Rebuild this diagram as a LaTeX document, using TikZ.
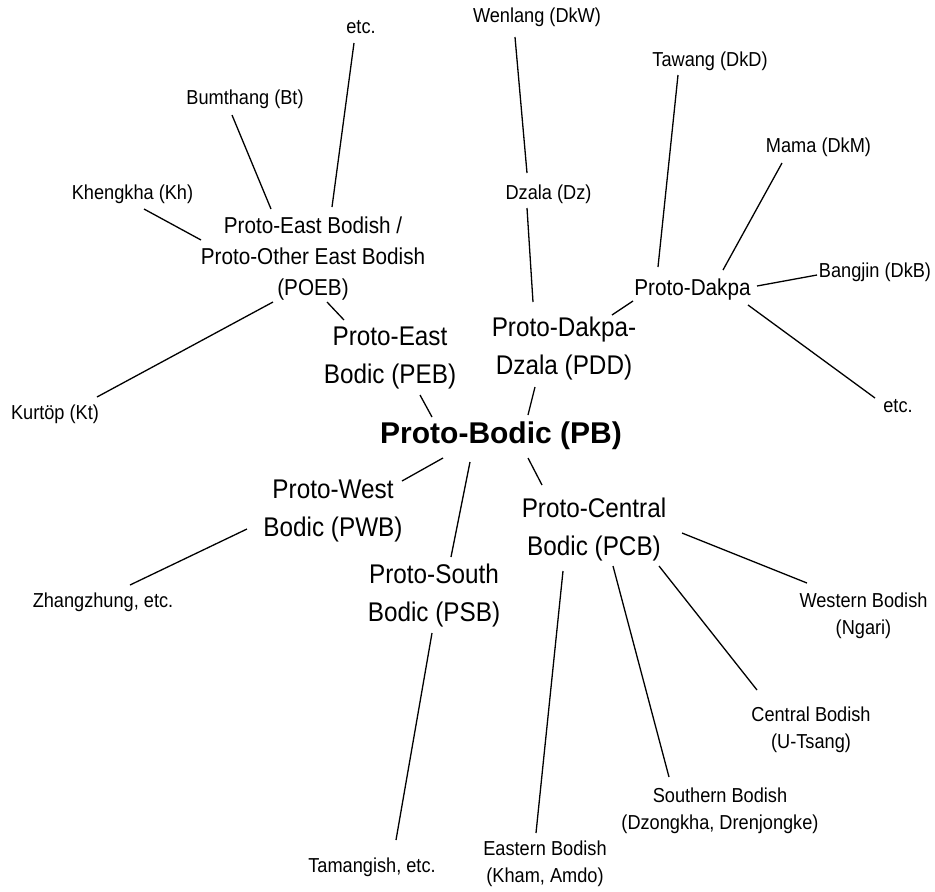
\documentclass[tikz,border=0pt]{standalone}
\usepackage{fontspec}
\setmainfont[FakeStretch=0.9]{Liberation Sans}
\newfontfamily\rootfont{Liberation Sans}
\begin{document}
\begin{tikzpicture}[x=1pt,y=-1pt,
  lbl/.style={inner sep=0pt,outer sep=0pt,align=center,text=black},
  small/.style={lbl,font=\fontsize{20.2}{27}\selectfont},
  mid/.style={lbl,font=\fontsize{23}{31}\selectfont},
  big/.style={lbl,font=\fontsize{27}{38}\selectfont},
  root/.style={lbl,font=\rootfont\fontsize{30}{36}\selectfont\bfseries},
  edge/.style={draw=black,line width=1.3pt}]
\useasboundingbox (0,0) rectangle (935,892);
% root
\node[root,anchor=base] (pb) at (501,443.3) {Proto-Bodic (PB)};
% first level
\node[big] (peb) at (390,358.5) {Proto-East\\Bodic (PEB)};
\node[big] (pdd) at (564,349) {Proto-Dakpa-\\Dzala (PDD)};
\node[big] (pwb) at (333,510.5) {Proto-West\\Bodic (PWB)};
\node[big] (psb) at (434,596) {Proto-South\\Bodic (PSB)};
\node[big] (pcb) at (594,530) {Proto-Central\\Bodic (PCB)};
% second level
\node[mid] (poeb) at (313,258.5) {Proto-East Bodish /\\Proto-Other East Bodish\\(POEB)};
\node[mid,anchor=base] (dakpa) at (692.5,295) {Proto-Dakpa};
\node[small,anchor=base] (dz) at (548.5,199) {Dzala (Dz)};
% leaves
\node[small,anchor=base] (etcA) at (361,33) {etc.};
\node[small,anchor=base] (bum) at (245,104) {Bumthang (Bt)};
\node[small,anchor=base] (kheng) at (132.5,199.3) {Khengkha (Kh)};
\node[small,anchor=base] (kurt) at (55,419) {Kurtöp (Kt)};
\node[small,anchor=base] (wen) at (537,22) {Wenlang (DkW)};
\node[small,anchor=base] (taw) at (710,66) {Tawang (DkD)};
\node[small,anchor=base] (mama) at (818.5,152) {Mama (DkM)};
\node[small,anchor=base] (bang) at (875,277) {Bangjin (DkB)};
\node[small,anchor=base] (etcB) at (898,412) {etc.};
\node[small,anchor=base] (zh) at (103,607) {Zhangzhung, etc.};
\node[small,anchor=base] (tam) at (372,872) {Tamangish, etc.};
\node[small] (west) at (863.5,615.5) {Western Bodish\\(Ngari)};
\node[small] (cen) at (811,730) {Central Bodish\\(U-Tsang)};
\node[small] (sou) at (720,810.5) {Southern Bodish\\(Dzongkha, Drenjongke)};
\node[small] (eas) at (545,864) {Eastern Bodish\\(Kham, Amdo)};
% connectors
\draw[edge] ([shift={(-7,10)}]etcA.base) -- ([shift={(19,-51.5)}]poeb.center);
\draw[edge] ([shift={(-13,11)}]bum.base) -- ([shift={(-42,-49.5)}]poeb.center);
\draw[edge] ([shift={(11.5,9.7)}]kheng.base) -- ([shift={(-112,-18.5)}]poeb.center);
\draw[edge] ([shift={(42,-22)}]kurt.base) -- ([shift={(-40,43.5)}]poeb.center);
\draw[edge] ([shift={(14,43.5)}]poeb.center) -- ([shift={(-46,-38.5)}]peb.center);
\draw[edge] ([shift={(30,36.5)}]peb.center) -- ([shift={(-69,-26.3)}]pb.base);
\draw[edge] ([shift={(-22,15)}]wen.base) -- ([shift={(-21.5,-26)}]dz.base);
\draw[edge] ([shift={(-21.5,9)}]dz.base) -- ([shift={(-31,-47)}]pdd.center);
\draw[edge] ([shift={(-32,9)}]taw.base) -- ([shift={(-34.5,-28)}]dakpa.base);
\draw[edge] ([shift={(-36.5,11)}]mama.base) -- ([shift={(30.5,-25)}]dakpa.base);
\draw[edge] ([shift={(-58,-2)}]bang.base) -- ([shift={(64.5,-9)}]dakpa.base);
\draw[edge] ([shift={(-23,-14)}]etcB.base) -- ([shift={(55.5,10)}]dakpa.base);
\draw[edge] ([shift={(-59.5,6)}]dakpa.base) -- ([shift={(48,-34)}]pdd.center);
\draw[edge] ([shift={(-29,38)}]pdd.center) -- ([shift={(27,-28.3)}]pb.base);
\draw[edge] ([shift={(-58,14.7)}]pb.base) -- ([shift={(69,-29.5)}]pwb.center);
\draw[edge] ([shift={(-31,18.7)}]pb.base) -- ([shift={(17,-39)}]psb.center);
\draw[edge] ([shift={(27,14.7)}]pb.base) -- ([shift={(-52,-45)}]pcb.center);
\draw[edge] ([shift={(-86,18.5)}]pwb.center) -- ([shift={(27,-22)}]zh.base);
\draw[edge] ([shift={(-2,37)}]psb.center) -- ([shift={(24,-32)}]tam.base);
\draw[edge] ([shift={(88,3)}]pcb.center) -- ([shift={(-56.5,-32.5)}]west.center);
\draw[edge] ([shift={(65,36)}]pcb.center) -- ([shift={(-54,-40)}]cen.center);
\draw[edge] ([shift={(19,36)}]pcb.center) -- ([shift={(-51,-33.5)}]sou.center);
\draw[edge] ([shift={(-31,41)}]pcb.center) -- ([shift={(-9,-31)}]eas.center);
\end{tikzpicture}
\end{document}
